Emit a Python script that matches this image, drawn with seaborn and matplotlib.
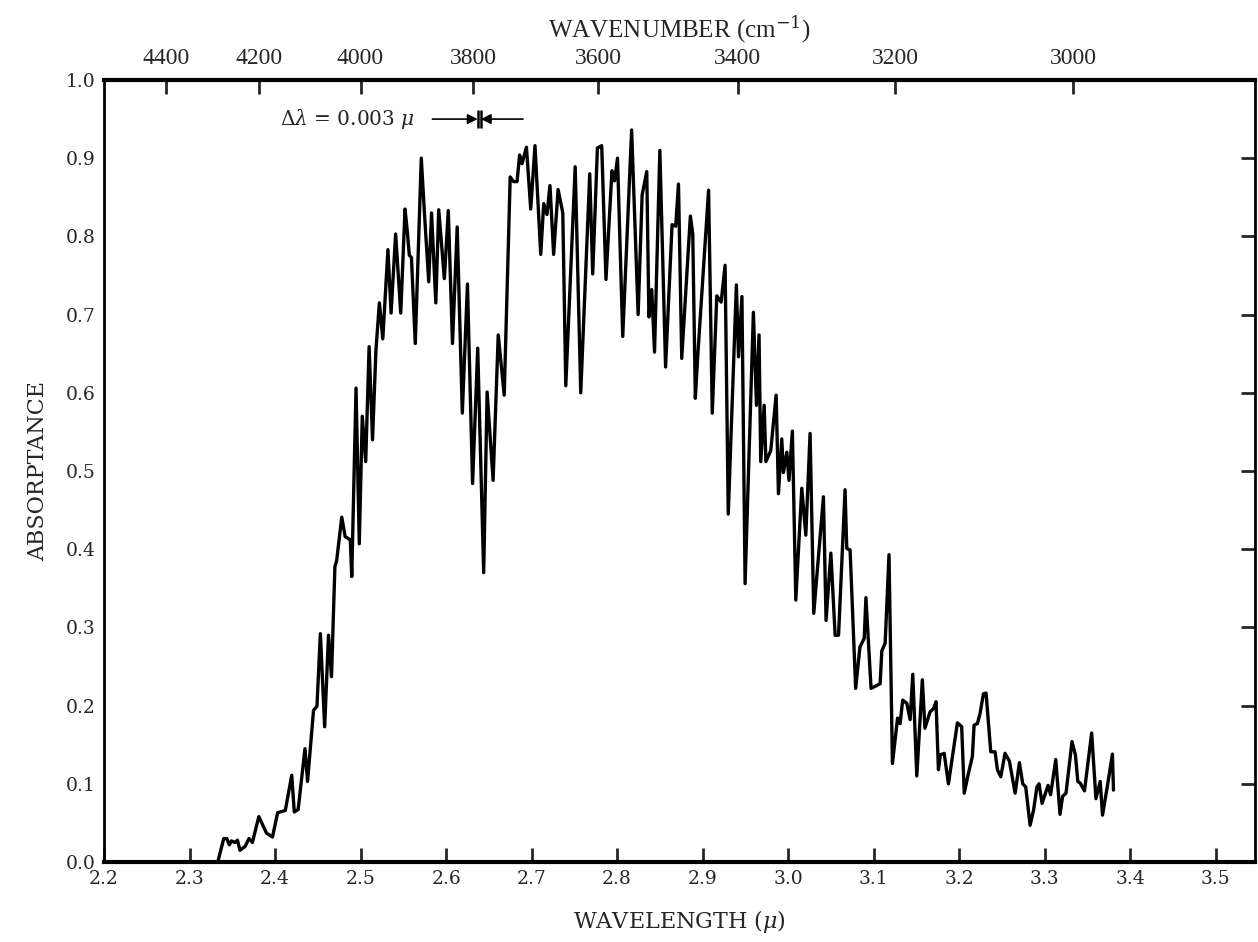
import matplotlib
matplotlib.use("Agg")
import matplotlib.pyplot as plt
import seaborn as sns
import pandas as pd

wavelength = [
    2.333, 2.340, 2.3435, 2.3466, 2.349, 2.353, 2.356, 2.359, 2.365, 2.3695, 2.3735,
    2.381, 2.390, 2.397, 2.403, 2.412, 2.4195, 2.4225, 2.427, 2.435, 2.438, 2.445,
    2.449, 2.453, 2.458, 2.4625, 2.466, 2.470, 2.472, 2.478, 2.482, 2.488, 2.4897,
    2.4947, 2.4985, 2.502, 2.506, 2.510, 2.514, 2.518, 2.522, 2.526, 2.532, 2.5357,
    2.541, 2.547, 2.552, 2.5547, 2.557, 2.5595, 2.564, 2.571, 2.5747, 2.5797, 2.583,
    2.588, 2.5914, 2.598, 2.6026, 2.6075, 2.613, 2.619, 2.625, 2.631, 2.637, 2.644,
    2.648, 2.655, 2.661, 2.668, 2.675, 2.679, 2.683, 2.686, 2.6888, 2.691, 2.694,
    2.699, 2.704, 2.7107, 2.7142, 2.718, 2.7215, 2.7258, 2.731, 2.7365, 2.740, 2.751,
    2.7575, 2.768, 2.7715, 2.777, 2.782, 2.787, 2.794, 2.797, 2.8005, 2.8066, 2.817,
    2.8246, 2.8293, 2.8347, 2.8372, 2.8405, 2.8438, 2.850, 2.8567, 2.8643, 2.8685,
    2.8718, 2.8756, 2.8857, 2.8885, 2.8915, 2.8945, 2.907, 2.9113, 2.9166, 2.9217,
    2.9263, 2.930, 2.9395, 2.942, 2.946, 2.9497, 2.9594, 2.963, 2.966, 2.968, 2.972,
    2.974, 2.9797, 2.986, 2.9887, 2.9926, 2.9945, 2.9985, 3.001, 3.005, 3.009, 3.016,
    3.0207, 3.0257, 3.030, 3.0413, 3.0444, 3.050, 3.055, 3.059, 3.0666, 3.0686,
    3.0725, 3.079, 3.084, 3.089, 3.091, 3.097, 3.1076, 3.1096, 3.1135, 3.118, 3.122,
    3.128, 3.131, 3.134, 3.1388, 3.1427, 3.1458, 3.1505, 3.157, 3.160, 3.166, 3.170,
    3.173, 3.1758, 3.178, 3.1825, 3.1875, 3.198, 3.203, 3.206, 3.2108, 3.2155, 3.2175,
    3.2214, 3.2245, 3.2284, 3.2315, 3.237, 3.242, 3.2448, 3.2487, 3.2537, 3.2588,
    3.2655, 3.2705, 3.2744, 3.2779, 3.283, 3.287, 3.291, 3.2935, 3.297, 3.304, 3.307,
    3.313, 3.318, 3.321, 3.325, 3.332, 3.336, 3.3388, 3.3415, 3.3466, 3.355, 3.360,
    3.365, 3.3677, 3.3735, 3.3793, 3.3805,
]
absorptance = [
    0.000, 0.030, 0.030, 0.022, 0.027, 0.025, 0.028, 0.015, 0.020, 0.030, 0.025,
    0.058, 0.037, 0.032, 0.063, 0.066, 0.111, 0.064, 0.067, 0.145, 0.103, 0.194,
    0.199, 0.292, 0.173, 0.290, 0.237, 0.378, 0.385, 0.441, 0.416, 0.412, 0.365,
    0.606, 0.407, 0.570, 0.512, 0.659, 0.540, 0.655, 0.715, 0.669, 0.783, 0.702,
    0.803, 0.702, 0.835, 0.806, 0.776, 0.773, 0.663, 0.900, 0.830, 0.742, 0.830,
    0.715, 0.834, 0.746, 0.833, 0.663, 0.812, 0.574, 0.739, 0.484, 0.657, 0.370,
    0.601, 0.488, 0.674, 0.597, 0.876, 0.870, 0.870, 0.904, 0.893, 0.902, 0.914,
    0.835, 0.916, 0.777, 0.842, 0.828, 0.865, 0.777, 0.860, 0.830, 0.609, 0.889,
    0.600, 0.880, 0.752, 0.913, 0.916, 0.745, 0.884, 0.871, 0.900, 0.672, 0.936,
    0.700, 0.853, 0.883, 0.697, 0.732, 0.652, 0.910, 0.633, 0.815, 0.813,
    0.867, 0.644, 0.826, 0.803, 0.593, 0.650, 0.859, 0.574, 0.724, 0.716,
    0.763, 0.445, 0.738, 0.646, 0.723, 0.356, 0.703, 0.584, 0.674, 0.512, 0.584,
    0.512, 0.526, 0.597, 0.471, 0.541, 0.498, 0.524, 0.488, 0.551, 0.335, 0.478,
    0.418, 0.548, 0.318, 0.467, 0.309, 0.395, 0.290, 0.290, 0.476, 0.401,
    0.399, 0.222, 0.275, 0.286, 0.338, 0.222, 0.228, 0.270, 0.280, 0.393, 0.126,
    0.184, 0.177, 0.207, 0.203, 0.182, 0.240, 0.110, 0.233, 0.171, 0.192, 0.196,
    0.205, 0.118, 0.137, 0.139, 0.100, 0.178, 0.173, 0.088, 0.113, 0.135, 0.175,
    0.177, 0.190, 0.215, 0.216, 0.141, 0.141, 0.118, 0.109, 0.139, 0.129,
    0.088, 0.127, 0.100, 0.096, 0.047, 0.066, 0.096, 0.100, 0.075, 0.098, 0.086,
    0.131, 0.061, 0.084, 0.088, 0.154, 0.137, 0.103, 0.101, 0.091, 0.165, 0.081,
    0.103, 0.060, 0.098, 0.138, 0.092,
]

x_ticks = [2.2, 2.3, 2.4, 2.5, 2.6, 2.7, 2.8, 2.9, 3.0, 3.1, 3.2, 3.3, 3.4, 3.5]
y_ticks = [0.0, 0.1, 0.2, 0.3, 0.4, 0.5, 0.6, 0.7, 0.8, 0.9, 1.0]
wavenumber_ticks = [4400, 4200, 4000, 3800, 3600, 3400, 3200, 3000]

sns.set_style("ticks")
plt.rcParams["font.family"] = ["DejaVu Serif"]
plt.rcParams["mathtext.fontset"] = "dejavuserif"

df = pd.DataFrame({"wavelength": wavelength, "absorptance": absorptance})

fig = plt.figure(figsize=(12.58, 9.42), dpi=100)
ax = fig.add_axes([0.0827, 0.0849, 0.9149, 0.8302])

sns.lineplot(data=df, x="wavelength", y="absorptance", ax=ax, sort=False,
             estimator=None, color="black", linewidth=2.4)

ax.set_xlim(2.2, 3.546)
ax.set_ylim(0.0, 1.0)
ax.set_xticks(x_ticks)
ax.set_xticklabels([f"{v:.1f}" for v in x_ticks], fontsize=13.5)
ax.set_yticks(y_ticks)
ax.set_yticklabels([f"{v:.1f}" for v in y_ticks], fontsize=13.5)

ax.tick_params(axis="x", direction="in", length=10, width=2, pad=6, top=False)
ax.tick_params(axis="y", direction="in", length=10, width=2, left=False,
               right=True, labelleft=True, pad=6)

for side, lw in (("bottom", 3), ("top", 3), ("left", 2), ("right", 2)):
    ax.spines[side].set_visible(True)
    ax.spines[side].set_linewidth(lw)
    ax.spines[side].set_color("black")

ax.set_xlabel("WAVELENGTH ($\\mu$)", fontsize=16, labelpad=14)
ax.set_ylabel("ABSORPTANCE", fontsize=16, labelpad=12)

sec = ax.secondary_xaxis("top", functions=(lambda x: 1e4 / x, lambda x: 1e4 / x))
sec.set_xticks(wavenumber_ticks)
sec.set_xticklabels([str(v) for v in wavenumber_ticks], fontsize=17,
                    family="Liberation Serif")
sec.tick_params(direction="in", length=10, width=2, pad=8)
sec.set_xlabel("WAVENUMBER (cm$^{-1}$)", fontsize=18, labelpad=8,
               family="Liberation Serif")

# resolution annotation
ax.text(2.406, 0.950, "$\\Delta\\lambda$ = 0.003 $\\mu$", fontsize=14.5,
        ha="left", va="center")
ax.annotate("", xy=(2.637, 0.950), xytext=(2.584, 0.950),
            arrowprops=dict(arrowstyle="-|>", color="black", lw=1.2,
                            mutation_scale=15, shrinkA=0, shrinkB=0))
ax.annotate("", xy=(2.6406, 0.950), xytext=(2.690, 0.950),
            arrowprops=dict(arrowstyle="-|>", color="black", lw=1.2,
                            mutation_scale=15, shrinkA=0, shrinkB=0))
ax.vlines([2.637, 2.6406], 0.939, 0.962, color="black", lw=1.8)

fig.savefig("out.png", dpi=100)
